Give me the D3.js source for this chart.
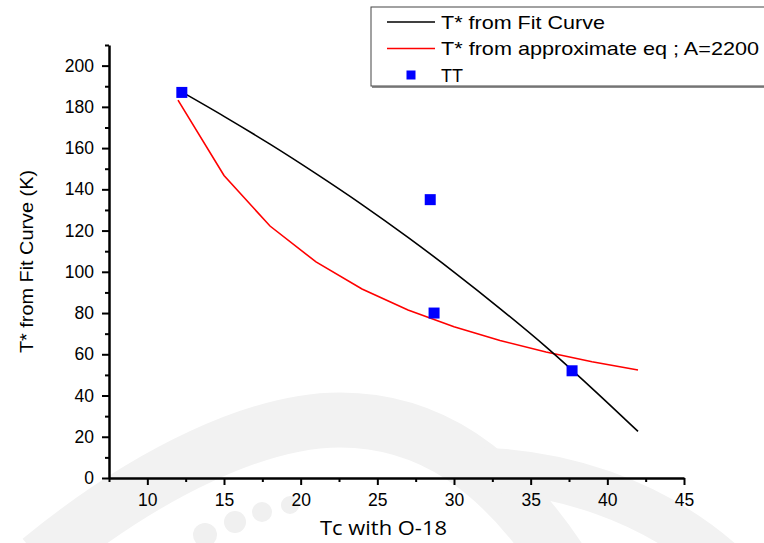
<!DOCTYPE html>
<html>
<head>
<meta charset="utf-8">
<script src="https://cdn.jsdelivr.net/npm/d3@7"></script>
<style>
  body { margin: 0; background: #fff; }
  svg { display: block; font-family: "Liberation Sans", Arial, sans-serif; }
</style>
</head>
<body>
<div id="chart"></div>
<script>
// values
const fitX = [12.3, 15, 18, 21, 24, 27, 30, 33, 36, 39, 42];
const fitY = [187, 175.4, 161.9, 147.6, 132.6, 116.7, 99.9, 82.2, 63.6, 43.5, 22.6];

const approxX = [12, 15, 18, 21, 24, 27, 30, 33, 36, 39, 42];
const approxY = [183.3, 146.7, 122.2, 104.8, 91.7, 81.5, 73.3, 66.7, 61.1, 56.4, 52.4];

const ttX = [12.25, 28.45, 28.7, 37.7];
const ttY = [187, 135, 80, 52];

const xMajor = [10, 15, 20, 25, 30, 35, 40, 45];
const xMinor = [7.5, 12.5, 17.5, 22.5, 27.5, 32.5, 37.5, 42.5];
const yMajor = [0, 20, 40, 60, 80, 100, 120, 140, 160, 180, 200];
const yMinor = [10, 30, 50, 70, 90, 110, 130, 150, 170, 190, 210];

const legendLabels = ['T* from Fit Curve', 'T* from approximate eq ; A=2200', 'TT'];
const legendWidths = [164, 318, 22];

const width = 764;
const height = 543;
const margin = { top: 45, right: 80, bottom: 65, left: 109 };

const svg = d3.select('#chart').append('svg')
  .attr('width', width)
  .attr('height', height);

// faint watermark behind everything
const wm = svg.append('g').attr('fill', 'none').attr('stroke', '#f2f2f2');
wm.append('path')
  .attr('d', 'M40,560 C150,470 260,420 340,420 C430,420 500,470 560,560')
  .attr('stroke-width', 55);
wm.append('path')
  .attr('d', 'M470,470 C560,470 650,500 720,560')
  .attr('stroke-width', 45);
[[205, 535, 12], [235, 522, 11], [262, 512, 10], [290, 505, 9]].forEach(([cx, cy, r]) => {
  svg.append('circle').attr('cx', cx).attr('cy', cy).attr('r', r).attr('fill', '#f0f0f0');
});

const xScale = d3.scaleLinear()
  .domain([7.5, 45])
  .range([margin.left, width - margin.right]);

const yScale = d3.scaleLinear()
  .domain([0, 210])
  .range([height - margin.bottom, margin.top]);

const bottom = height - margin.bottom;

// minor ticks
svg.append('g')
  .attr('transform', `translate(0, ${bottom})`)
  .call(d3.axisBottom(xScale).tickValues(xMinor).tickSize(4).tickFormat(''))
  .call((g) => g.select('.domain').remove())
  .call((g) => g.selectAll('line').attr('stroke-width', 2));

svg.append('g')
  .attr('transform', `translate(${margin.left}, 0)`)
  .call(d3.axisLeft(yScale).tickValues(yMinor).tickSize(4).tickFormat(''))
  .call((g) => g.select('.domain').remove())
  .call((g) => g.selectAll('line').attr('stroke-width', 2));

// major axes
svg.append('g')
  .attr('transform', `translate(0, ${bottom})`)
  .call(d3.axisBottom(xScale).tickValues(xMajor).tickSize(7).tickSizeOuter(0).tickPadding(9))
  .call((g) => g.select('.domain').attr('stroke-width', 2.5))
  .call((g) => g.selectAll('line').attr('stroke-width', 2))
  .call((g) => g.selectAll('text').attr('font-size', 17.5).attr('font-family', '"Liberation Sans", Arial, sans-serif').attr('fill', '#000'));

svg.append('g')
  .attr('transform', `translate(${margin.left}, 0)`)
  .call(d3.axisLeft(yScale).tickValues(yMajor).tickSize(7).tickSizeOuter(0).tickPadding(8))
  .call((g) => g.select('.domain').attr('stroke-width', 2.5))
  .call((g) => g.selectAll('line').attr('stroke-width', 2))
  .call((g) => g.selectAll('text').attr('font-size', 17.5).attr('font-family', '"Liberation Sans", Arial, sans-serif').attr('fill', '#000'));

// curves
const fitData = fitX.map((x, i) => ({ x, y: fitY[i] }));
const approxData = approxX.map((x, i) => ({ x, y: approxY[i] }));
const ttData = ttX.map((x, i) => ({ x, y: ttY[i] }));

const line = d3.line()
  .x((d) => xScale(d.x))
  .y((d) => yScale(d.y));

svg.append('path')
  .datum(approxData)
  .attr('fill', 'none')
  .attr('stroke', '#ff0000')
  .attr('stroke-width', 1.6)
  .attr('d', line);

svg.append('path')
  .datum(fitData)
  .attr('fill', 'none')
  .attr('stroke', '#000')
  .attr('stroke-width', 1.6)
  .attr('d', line.curve(d3.curveMonotoneX));

const sq = 11;
svg.append('g').selectAll('rect')
  .data(ttData)
  .join('rect')
  .attr('x', (d) => xScale(d.x) - sq / 2)
  .attr('y', (d) => yScale(d.y) - sq / 2)
  .attr('width', sq)
  .attr('height', sq)
  .attr('fill', '#0000ff');

// axis titles
svg.append('text')
  .attr('transform', `translate(33, ${(margin.top + bottom) / 2}) rotate(-90)`)
  .attr('text-anchor', 'middle')
  .attr('font-size', 18)
  .attr('textLength', 183)
  .attr('lengthAdjust', 'spacingAndGlyphs')
  .text('T* from Fit Curve (K)');

svg.append('rect')
  .attr('x', 318).attr('y', 508)
  .attr('width', 152).attr('height', 35)
  .attr('fill', '#fff');

svg.append('text')
  .attr('x', 320)
  .attr('y', 535)
  .attr('font-family', '"Open Sans", sans-serif')
  .attr('font-size', 20)
  .attr('textLength', 127)
  .attr('lengthAdjust', 'spacingAndGlyphs')
  .text('Tc with O-18');

// legend
const legend = svg.append('g').attr('transform', 'translate(371, 7)');
legend.append('rect')
  .attr('x', 0).attr('y', 0)
  .attr('width', 420).attr('height', 79)
  .attr('fill', '#fff')
  .attr('stroke', '#444')
  .attr('stroke-width', 1);
legend.append('line')
  .attr('x1', 1).attr('x2', 420)
  .attr('y1', 80).attr('y2', 80)
  .attr('stroke', '#666')
  .attr('stroke-width', 1.5);

const legendColors = ['#000', '#ff0000'];
legendLabels.forEach((label, i) => {
  const ly = 15 + i * 26.5;
  if (i < 2) {
    legend.append('line')
      .attr('x1', 16).attr('x2', 64)
      .attr('y1', ly).attr('y2', ly)
      .attr('stroke', legendColors[i])
      .attr('stroke-width', 1.3);
  } else {
    legend.append('rect')
      .attr('x', 40 - 4.5).attr('y', ly - 4.5)
      .attr('width', 9).attr('height', 9)
      .attr('fill', '#0000ff');
  }
  legend.append('text')
    .attr('x', 70)
    .attr('y', ly + 6.5)
    .attr('font-size', 18.5)
    .attr('textLength', legendWidths[i])
    .attr('lengthAdjust', 'spacingAndGlyphs')
    .text(label);
});
</script>
</body>
</html>
